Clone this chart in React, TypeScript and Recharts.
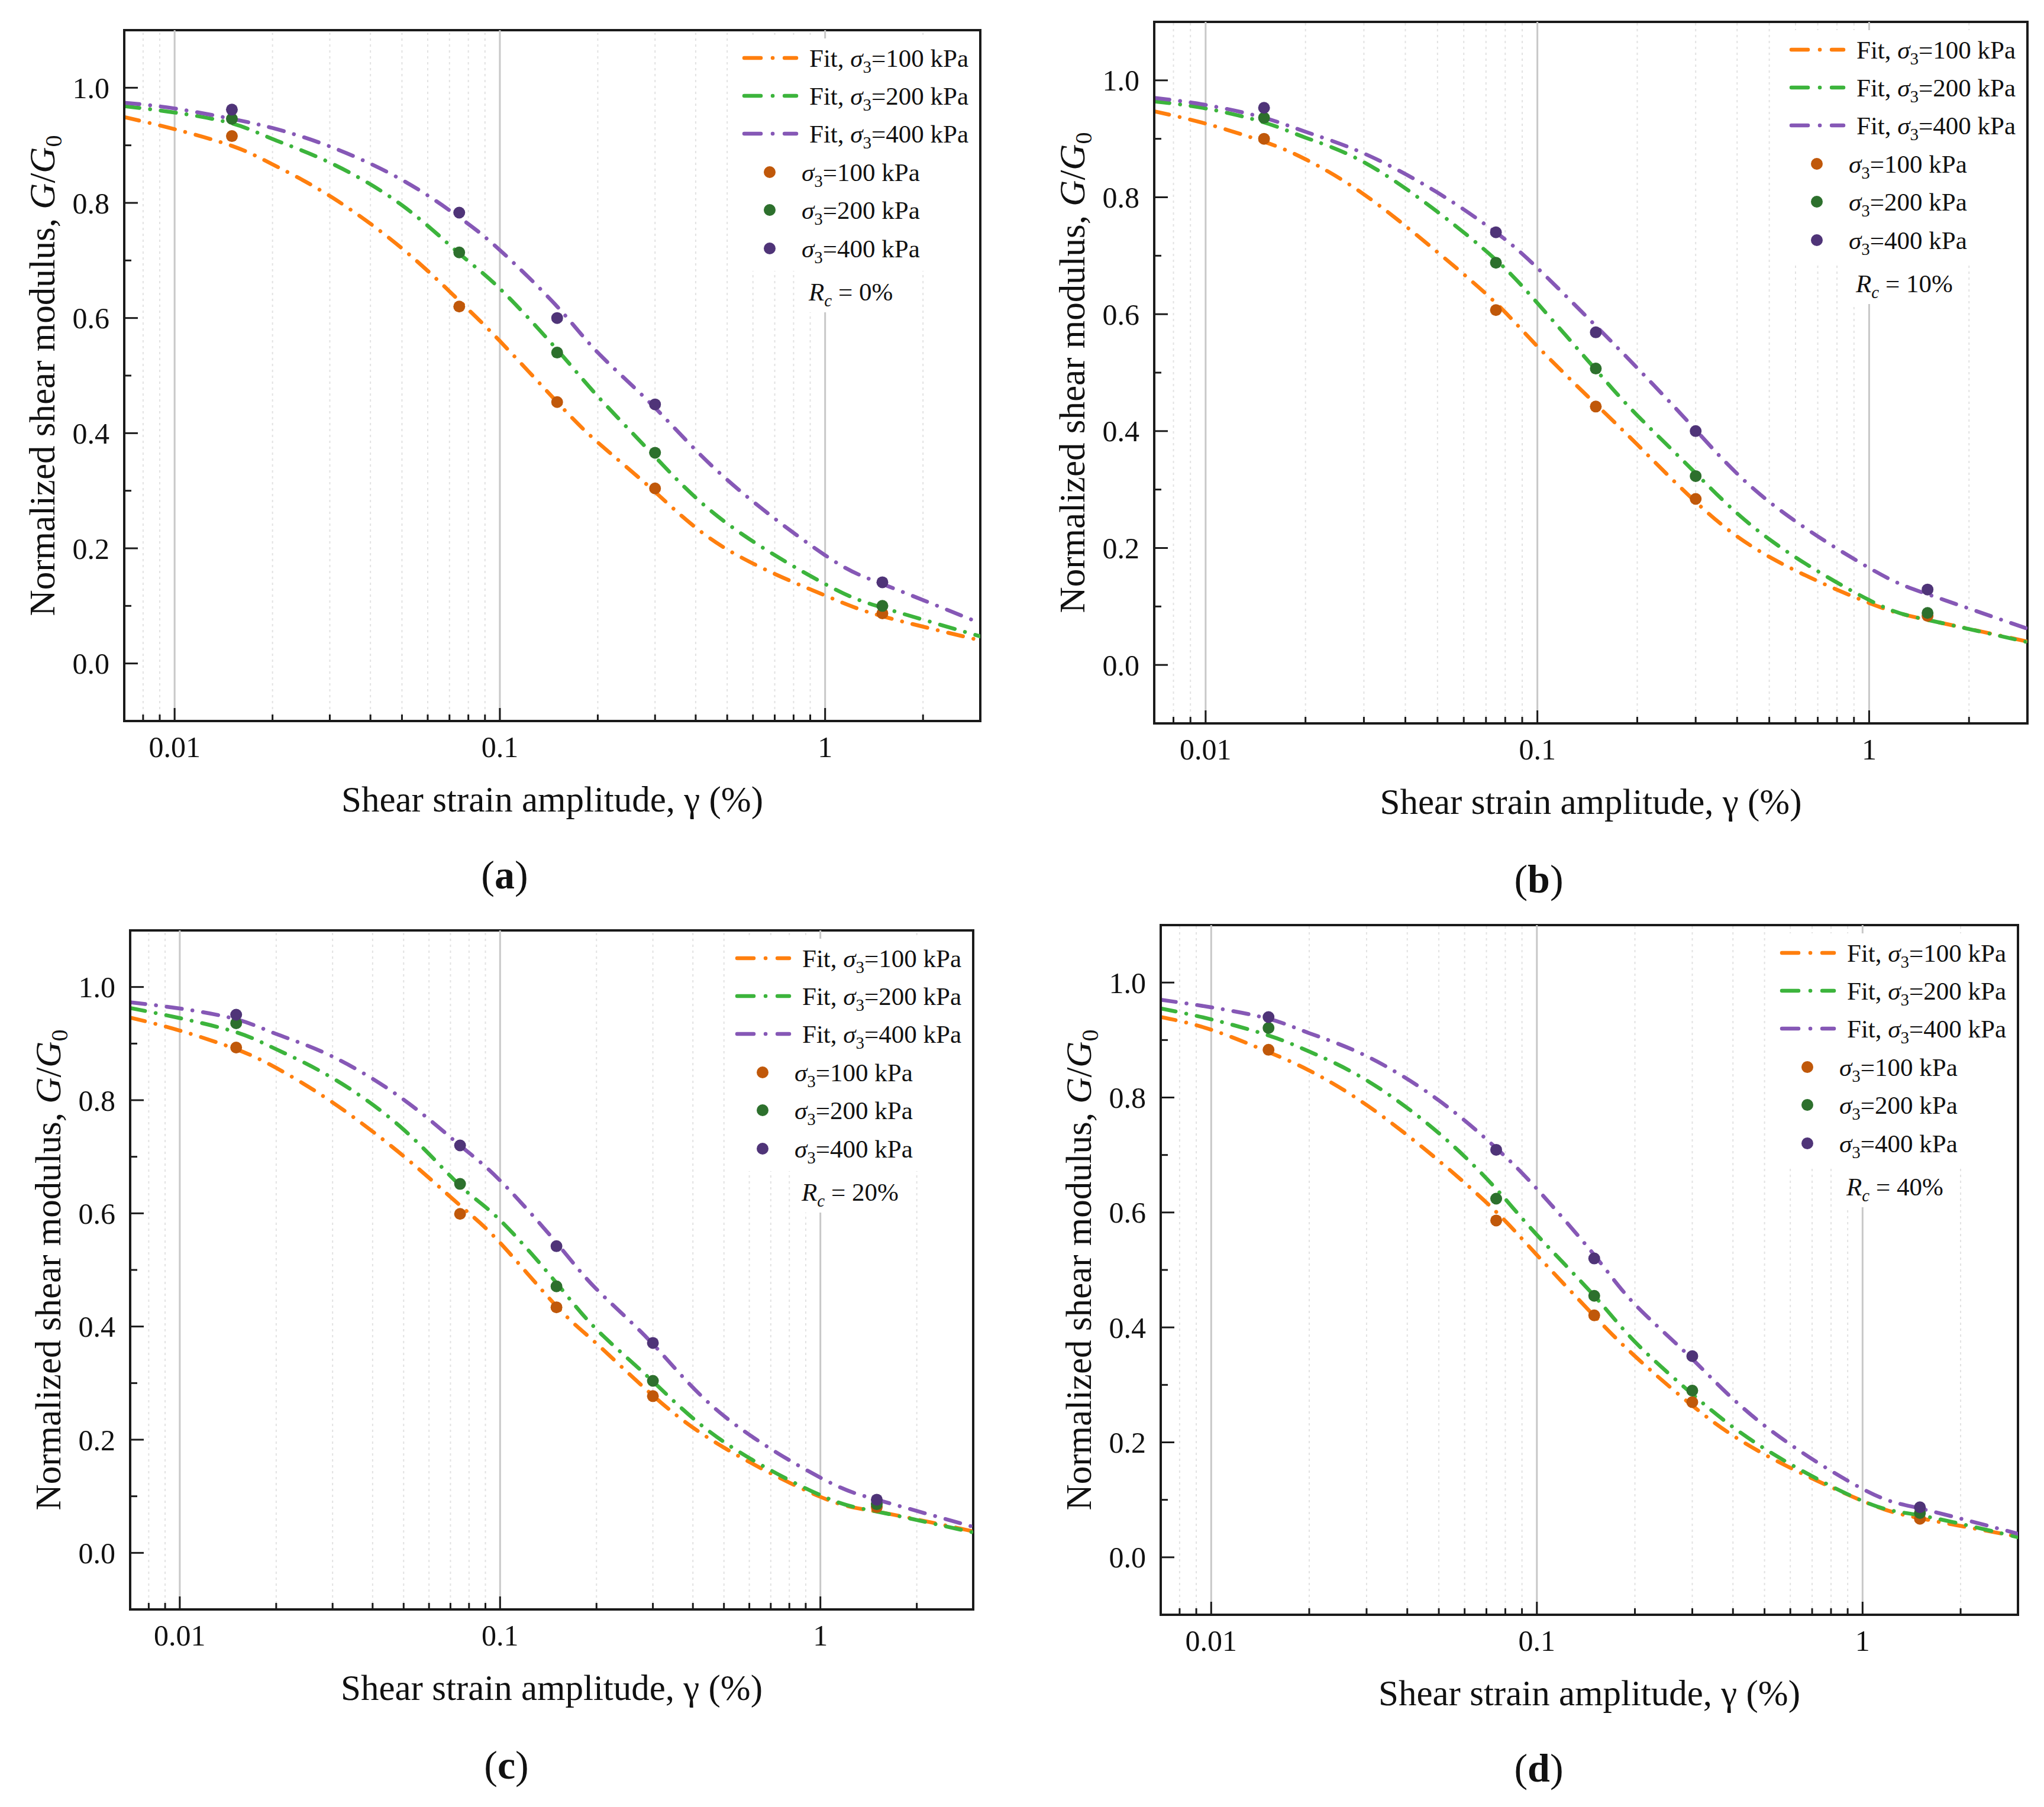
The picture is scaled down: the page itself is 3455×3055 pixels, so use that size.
import React from 'react';
import {
  ComposedChart,
  Line,
  Scatter,
  XAxis,
  YAxis,
  ReferenceLine,
  ReferenceArea,
  Label,
} from 'recharts';

const FONT = '"Liberation Serif", "Times New Roman", serif';

const STRAIN_FIT = [0.007, 0.01, 0.015, 0.02, 0.03, 0.05, 0.075, 0.1, 0.15, 0.2, 0.3, 0.5, 1, 1.5, 3];
// strain values of the test points
const STRAIN_TEST = [0.015, 0.075, 0.15, 0.3, 1.5];

// (a) Rc = 0%
const FIT_A_100 = [0.949, 0.928, 0.899, 0.867, 0.812, 0.721, 0.63, 0.56, 0.454, 0.384, 0.298, 0.198, 0.118, 0.082, 0.04];
const FIT_A_200 = [0.968, 0.957, 0.938, 0.911, 0.87, 0.796, 0.712, 0.651, 0.545, 0.464, 0.359, 0.243, 0.138, 0.097, 0.047];
const FIT_A_400 = [0.974, 0.964, 0.946, 0.93, 0.898, 0.84, 0.775, 0.718, 0.62, 0.54, 0.444, 0.319, 0.188, 0.138, 0.07];
const TEST_A_100 = [0.916, 0.62, 0.454, 0.304, 0.087];
const TEST_A_200 = [0.946, 0.714, 0.54, 0.366, 0.1];
const TEST_A_400 = [0.962, 0.783, 0.6, 0.45, 0.141];

// (b) Rc = 10%
const FIT_B_100 = [0.947, 0.926, 0.895, 0.865, 0.805, 0.706, 0.619, 0.545, 0.446, 0.377, 0.279, 0.185, 0.106, 0.077, 0.04];
const FIT_B_200 = [0.964, 0.952, 0.928, 0.902, 0.86, 0.775, 0.693, 0.619, 0.505, 0.427, 0.328, 0.215, 0.111, 0.077, 0.039];
const FIT_B_400 = [0.97, 0.958, 0.936, 0.912, 0.875, 0.808, 0.74, 0.679, 0.58, 0.508, 0.402, 0.279, 0.166, 0.121, 0.062];
const TEST_B_100 = [0.9, 0.607, 0.442, 0.284, 0.084];
const TEST_B_200 = [0.936, 0.688, 0.507, 0.323, 0.089];
const TEST_B_400 = [0.953, 0.74, 0.569, 0.4, 0.129];

// (c) Rc = 20%
const FIT_C_100 = [0.946, 0.923, 0.89, 0.857, 0.796, 0.701, 0.614, 0.548, 0.436, 0.37, 0.278, 0.186, 0.099, 0.073, 0.038];
const FIT_C_200 = [0.963, 0.945, 0.92, 0.89, 0.839, 0.748, 0.649, 0.588, 0.477, 0.395, 0.303, 0.196, 0.102, 0.073, 0.036];
const FIT_C_400 = [0.973, 0.962, 0.943, 0.917, 0.877, 0.801, 0.72, 0.658, 0.548, 0.466, 0.369, 0.242, 0.133, 0.094, 0.046];
const TEST_C_100 = [0.893, 0.599, 0.434, 0.277, 0.081];
const TEST_C_200 = [0.936, 0.652, 0.471, 0.304, 0.086];
const TEST_C_400 = [0.951, 0.72, 0.542, 0.371, 0.094];

// (d) Rc = 40%
const FIT_D_100 = [0.94, 0.918, 0.879, 0.847, 0.787, 0.69, 0.601, 0.526, 0.42, 0.35, 0.264, 0.179, 0.098, 0.068, 0.036];
const FIT_D_200 = [0.955, 0.936, 0.908, 0.88, 0.83, 0.738, 0.641, 0.561, 0.455, 0.375, 0.284, 0.189, 0.098, 0.073, 0.035];
const FIT_D_400 = [0.97, 0.957, 0.937, 0.912, 0.872, 0.795, 0.712, 0.641, 0.526, 0.44, 0.345, 0.229, 0.119, 0.085, 0.041];
const TEST_D_100 = [0.883, 0.586, 0.421, 0.27, 0.067];
const TEST_D_200 = [0.921, 0.624, 0.455, 0.29, 0.077];
const TEST_D_400 = [0.94, 0.709, 0.52, 0.35, 0.087];

const PRESSURES = ['100', '200', '400'];
const X_DOMAIN = [0.007, 3];
const Y_DOMAIN = [-0.1, 1.1];
const X_MAJOR = [0.01, 0.1, 1];
const X_MINOR = [
  0.008, 0.009,
  0.02, 0.03, 0.04, 0.05, 0.06, 0.07, 0.08, 0.09,
  0.2, 0.3, 0.4, 0.5, 0.6, 0.7, 0.8, 0.9,
  2,
];
const X_TICKS = [...X_MINOR, ...X_MAJOR].sort((a, b) => a - b);
const Y_TICKS = [0, 0.1, 0.2, 0.3, 0.4, 0.5, 0.6, 0.7, 0.8, 0.9, 1.0];

const LINE_COLORS = ['#ff7f0e', '#3cb43c', '#8658b6'];
const POINT_COLORS = ['#c0580a', '#2d702d', '#4f3478'];
const AXIS_COLOR = '#1a1a1a';
const DASH = '26 18 0.1 18';

const PANELS = [
  { id: 'a', left: 210, top: 51, right: 1657, bottom: 1219, letterX: 853, letterY: 1502, rc: '0%',
    fits: [FIT_A_100, FIT_A_200, FIT_A_400], tests: [TEST_A_100, TEST_A_200, TEST_A_400] },
  { id: 'b', left: 1951, top: 37, right: 3427, bottom: 1223, letterX: 2601, letterY: 1509, rc: '10%',
    fits: [FIT_B_100, FIT_B_200, FIT_B_400], tests: [TEST_B_100, TEST_B_200, TEST_B_400] },
  { id: 'c', left: 220, top: 1573, right: 1645, bottom: 2721, letterX: 856, letterY: 3007, rc: '20%',
    fits: [FIT_C_100, FIT_C_200, FIT_C_400], tests: [TEST_C_100, TEST_C_200, TEST_C_400] },
  { id: 'd', left: 1962, top: 1564, right: 3411, bottom: 2730, letterX: 2601, letterY: 3012, rc: '40%',
    fits: [FIT_D_100, FIT_D_200, FIT_D_400], tests: [TEST_D_100, TEST_D_200, TEST_D_400] },
];

const toPoints = (xs: number[], ys: number[]) => xs.map((x, i) => ({ x, y: ys[i] }));

// ticks point inward, minors are shorter and unlabeled
function XTick(props: any) {
  const { x, y, payload } = props;
  const major = X_MAJOR.includes(payload.value);
  return (
    <g>
      <line x1={x} x2={x} y1={y} y2={y - (major ? 22 : 11)} stroke={AXIS_COLOR} strokeWidth={3} />
      {major && (
        <text x={x} y={y + 61} textAnchor="middle" fontSize={50} fontFamily={FONT} fill="#111">
          {String(payload.value)}
        </text>
      )}
    </g>
  );
}

function TopTick(props: any) {
  const { x, y } = props;
  return <line x1={x} x2={x} y1={y} y2={y + 22} stroke={AXIS_COLOR} strokeWidth={3} />;
}

function YTick(props: any) {
  const { x, y, payload } = props;
  const major = Math.round(payload.value * 10) % 2 === 0;
  return (
    <g>
      <line x1={x} x2={x + (major ? 23 : 12)} y1={y} y2={y} stroke={AXIS_COLOR} strokeWidth={3} />
      {major && (
        <text x={x - 25} y={y} dy="0.35em" textAnchor="end" fontSize={50} fontFamily={FONT} fill="#111">
          {payload.value.toFixed(1)}
        </text>
      )}
    </g>
  );
}

function XTitle(props: any) {
  const { x, y, width } = props.viewBox;
  return (
    <text x={x + width / 2} y={y + 153} textAnchor="middle" fontSize={61} fontFamily={FONT} fill="#111">
      Shear strain amplitude, γ (%)
    </text>
  );
}

function YTitle(props: any) {
  const { x, y, width, height } = props.viewBox;
  const cx = x + width - 118;
  const cy = y + height / 2;
  return (
    <text
      x={cx}
      y={cy}
      transform={`rotate(-90 ${cx} ${cy})`}
      textAnchor="middle"
      fontSize={61}
      fontFamily={FONT}
      fill="#111"
    >
      Normalized shear modulus, <tspan fontStyle="italic">G</tspan>/<tspan fontStyle="italic">G</tspan>
      <tspan fontSize={40} dy={12}>0</tspan>
    </text>
  );
}

const FIT_ROWS = [47, 111, 175];
const TEST_ROWS = [240, 304, 369];
const RC_ROW = 442;

function PanelLegend({ rc, right, top }: { rc: string; right: number; top: number }) {
  const R = 430;
  return (
    <svg
      width={440}
      height={490}
      style={{ position: 'absolute', left: right - R, top, overflow: 'visible' }}
      fontFamily={FONT}
    >
      <rect x={R - 417} y={14} width={415} height={393} fill="#fff" />
      <rect x={R - 300} y={405} width={180} height={72} fill="#fff" />
      {FIT_ROWS.map((row, i) => (
        <g key={'f' + i}>
          <line
            x1={R - 399}
            x2={R - 311}
            y1={row}
            y2={row}
            stroke={LINE_COLORS[i]}
            strokeWidth={6.5}
            strokeLinecap="round"
            strokeDasharray="28 20 0.1 20"
          />
          <text x={R - 289} y={row + 15} fontSize={43} fill="#111">
            Fit, <tspan fontStyle="italic">σ</tspan>
            <tspan fontSize={29} dy={10}>3</tspan>
            <tspan dy={-10}>={PRESSURES[i]} kPa</tspan>
          </text>
        </g>
      ))}
      {TEST_ROWS.map((row, i) => (
        <g key={'t' + i}>
          <circle cx={R - 356} cy={row} r={10} fill={POINT_COLORS[i]} />
          <text x={R - 302} y={row + 15} fontSize={43} fill="#111">
            <tspan fontStyle="italic">σ</tspan>
            <tspan fontSize={29} dy={10}>3</tspan>
            <tspan dy={-10}>={PRESSURES[i]} kPa</tspan>
          </text>
        </g>
      ))}
      <text x={R - 290} y={RC_ROW + 15} fontSize={43} fill="#111">
        <tspan fontStyle="italic">R</tspan>
        <tspan fontStyle="italic" fontSize={29} dy={10}>c</tspan>
        <tspan dy={-10}> = {rc}</tspan>
      </text>
    </svg>
  );
}

function Panel({ p }: { p: (typeof PANELS)[number] }) {
  const w = p.right - p.left;
  const h = p.bottom - p.top;
  return (
    <div style={{ position: 'absolute', left: p.left - 200, top: p.top - 40 }}>
      <ComposedChart
        width={w + 240}
        height={h + 240}
        margin={{ top: 40, right: 40, bottom: 0, left: 140 }}
      >
        <XAxis
          xAxisId="b"
          dataKey="x"
          type="number"
          scale="log"
          domain={X_DOMAIN}
          ticks={X_TICKS}
          interval={0}
          allowDataOverflow
          height={200}
          tickSize={0}
          tickMargin={0}
          tickLine={false}
          axisLine={{ stroke: AXIS_COLOR, strokeWidth: 4 }}
          tick={<XTick />}
        >
          <Label content={XTitle} />
        </XAxis>
        <XAxis
          xAxisId="t"
          orientation="top"
          dataKey="x"
          type="number"
          scale="log"
          domain={X_DOMAIN}
          ticks={X_MAJOR}
          interval={0}
          allowDataOverflow
          height={0}
          tickSize={0}
          tickMargin={0}
          tickLine={false}
          axisLine={false}
          tick={<TopTick />}
        />
        <YAxis
          yAxisId="l"
          dataKey="y"
          type="number"
          domain={Y_DOMAIN}
          ticks={Y_TICKS}
          interval={0}
          allowDataOverflow
          width={60}
          tickSize={0}
          tickMargin={0}
          tickLine={false}
          axisLine={{ stroke: AXIS_COLOR, strokeWidth: 4 }}
          tick={<YTick />}
        >
          <Label content={YTitle} />
        </YAxis>

        {X_MINOR.map((v) => (
          <ReferenceLine
            key={'m' + v}
            xAxisId="b"
            yAxisId="l"
            x={v}
            stroke="#e2e2e2"
            strokeWidth={2}
            strokeDasharray="4 6"
          />
        ))}
        {X_MAJOR.map((v) => (
          <ReferenceLine key={'M' + v} xAxisId="b" yAxisId="l" x={v} stroke="#c8c8c8" strokeWidth={3} />
        ))}

        {p.fits.map((vals, i) => (
          <Line
            key={'fit' + i}
            xAxisId="b"
            yAxisId="l"
            data={toPoints(STRAIN_FIT, vals)}
            dataKey="y"
            type="natural"
            stroke={LINE_COLORS[i]}
            strokeWidth={6.5}
            strokeLinecap="round"
            strokeDasharray={DASH}
            dot={false}
            activeDot={false}
            isAnimationActive={false}
          />
        ))}
        {p.tests.map((vals, i) => (
          <Scatter
            key={'test' + i}
            xAxisId="b"
            yAxisId="l"
            data={toPoints(STRAIN_TEST, vals)}
            dataKey="y"
            fill={POINT_COLORS[i]}
            shape={(s: any) => <circle cx={s.cx} cy={s.cy} r={10} fill={POINT_COLORS[i]} />}
            isAnimationActive={false}
          />
        ))}

        <ReferenceArea
          xAxisId="b"
          yAxisId="l"
          x1={X_DOMAIN[0]}
          x2={X_DOMAIN[1]}
          y1={Y_DOMAIN[0]}
          y2={Y_DOMAIN[1]}
          fill="none"
          fillOpacity={0}
          stroke={AXIS_COLOR}
          strokeWidth={4}
        />
      </ComposedChart>
      <PanelLegend rc={p.rc} right={w + 200} top={40} />
    </div>
  );
}

export default function App() {
  return (
    <div
      style={{
        position: 'absolute',
        left: 0,
        top: 0,
        width: 3455,
        height: 3055,
        background: '#fff',
        fontFamily: FONT,
      }}
    >
      <svg width={3455} height={3055} style={{ position: 'absolute', left: 0, top: 0 }}>
        {PANELS.map((p) => (
          <text key={p.id} x={p.letterX} y={p.letterY} textAnchor="middle" fontSize={68} fontFamily={FONT} fill="#111">
            (<tspan fontWeight="bold">{p.id}</tspan>)
          </text>
        ))}
      </svg>
      {PANELS.map((p) => (
        <Panel key={p.id} p={p} />
      ))}
    </div>
  );
}
